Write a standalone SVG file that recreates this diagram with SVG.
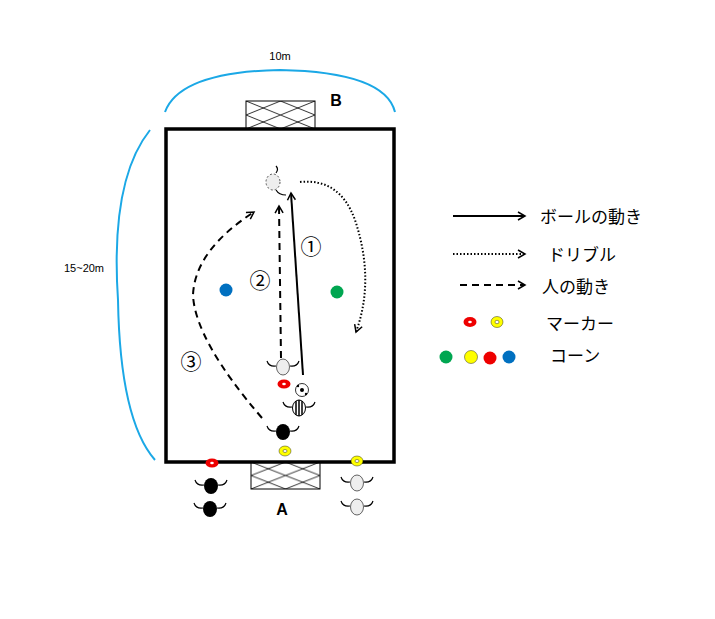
<svg xmlns="http://www.w3.org/2000/svg" width="715" height="619" viewBox="0 0 715 619">
<style>
text{font-family:"Liberation Sans",Arial,"Noto Sans CJK JP",sans-serif;fill:#000}
.lg{font-size:17px}
.sm{font-size:11px}
.num{font-size:21px;font-family:"Noto Sans CJK JP","DejaVu Sans",sans-serif}
.arm{fill:none;stroke:#000;stroke-width:1.2}
.ln{fill:none;stroke:#000;stroke-width:2}
.dash{stroke-dasharray:7,5}
.dot{stroke-dasharray:1.5,2}
.blue{fill:none;stroke:#1ba8e6;stroke-width:2}
.net{fill:#fff;stroke:#000;stroke-width:1}
</style>
<defs>
<marker id="ah" markerWidth="10" markerHeight="10" refX="8" refY="5" orient="auto" markerUnits="userSpaceOnUse"><path d="M1,1 L8,5 L1,9" fill="none" stroke="#000" stroke-width="1.5"/></marker>
<pattern id="x" x="246" y="101" width="34.5" height="14" patternUnits="userSpaceOnUse"><path d="M0,0 L34.5,14 M34.5,0 L0,14" stroke="#000" stroke-width="0.8"/></pattern>
<pattern id="x2" x="251" y="462" width="34.5" height="13.5" patternUnits="userSpaceOnUse"><path d="M0,0 L34.5,13.5 M34.5,0 L0,13.5" stroke="#000" stroke-width="0.8"/></pattern>
<g id="arms"><path class="arm" d="M-16,-6 q2,6 9,5 M16,-6 q-2,6 -9,5"/></g>
</defs>
<rect width="715" height="619" fill="#fff"/>
<path class="blue" d="M165,112 Q180,72 280,70 Q385,72 395,112"/>
<path class="blue" d="M150,130 Q110,180 118,300 Q120,420 155,460"/>
<text class="sm" x="280" y="60" text-anchor="middle">10m</text>
<text class="sm" x="84" y="272" text-anchor="middle">15~20m</text>
<g id="goalB"><rect class="net" x="246" y="101" width="69" height="28"/><rect x="246" y="101" width="69" height="28" fill="url(#x)"/></g>
<g id="goalA"><rect class="net" x="251" y="462" width="69" height="27"/><rect x="251" y="462" width="69" height="27" fill="url(#x2)"/></g>
<rect id="field" x="166" y="129" width="228" height="333" fill="none" stroke="#000" stroke-width="3.5"/>
<text x="336" y="106" font-size="16" font-weight="bold" text-anchor="middle">B</text>
<text x="282" y="515" font-size="16" font-weight="bold" text-anchor="middle">A</text>
<g id="connectors">
<path class="ln" d="M303,375 L291,193" marker-end="url(#ah)"/>
<path class="ln dash" d="M281,358 L279,206" marker-end="url(#ah)"/>
<path class="ln dash" d="M262,418 Q195,340 193,295 Q195,250 254,212" marker-end="url(#ah)"/>
<path class="ln dot" d="M300,182 Q340,178 355,220 Q375,280 356,332" marker-end="url(#ah)"/>
</g>
<g id="ghost"><ellipse cx="273" cy="182" rx="7" ry="8" fill="#eee" stroke="#555" stroke-dasharray="2,2"/><path class="arm" d="M276,166 q3,3 0,7 M276,190 q3,5 10,5"/></g>
<g id="cones"><circle cx="226" cy="290" r="6.5" fill="#0070c0"/><circle cx="337" cy="292" r="6.5" fill="#00a651"/></g>
<text class="num" x="311" y="254" text-anchor="middle">①</text>
<text class="num" x="260" y="288" text-anchor="middle">②</text>
<text class="num" x="191" y="369" text-anchor="middle">③</text>
<g id="pWhite1" transform="translate(283,367)"><use href="#arms"/><ellipse rx="6.5" ry="8" fill="#eee" stroke="#000" stroke-width="0.6"/></g>
<g id="mRed1"><ellipse cx="284" cy="384" rx="6.5" ry="4.5" fill="#e00"/><ellipse cx="284" cy="384" rx="1.8" ry="1.3" fill="#fff"/></g>
<g id="ball"><circle cx="302" cy="390" r="6.5" fill="#fff" stroke="#000" stroke-width="0.8"/><circle cx="302" cy="390" r="2" fill="#000"/><circle cx="298" cy="386" r="1.2" fill="#000"/><circle cx="306" cy="394" r="1.2" fill="#000"/></g>
<g id="pStripe" transform="translate(299,408)"><use href="#arms"/><ellipse rx="6.5" ry="8" fill="#fff" stroke="#000"/><path d="M-3,-7 V7 M0,-8 V8 M3,-7 V7" stroke="#000" stroke-width="1.5"/></g>
<g id="pBlack1" transform="translate(283,432)"><use href="#arms"/><ellipse rx="7" ry="8" fill="#000"/></g>
<g id="mYel1"><ellipse cx="285" cy="451" rx="6" ry="5" fill="#ff0" stroke="#000" stroke-width="0.4"/><ellipse cx="285" cy="451" rx="2" ry="1.5" fill="#fff" stroke="#000" stroke-width="0.4"/></g>
<g id="mRed2"><ellipse cx="212" cy="463" rx="6.5" ry="4.5" fill="#e00"/><ellipse cx="212" cy="463" rx="1.8" ry="1.3" fill="#fff"/></g>
<g id="mYel2"><ellipse cx="357" cy="461" rx="6" ry="5" fill="#ff0" stroke="#000" stroke-width="0.4"/><ellipse cx="357" cy="461" rx="2" ry="1.5" fill="#fff" stroke="#000" stroke-width="0.4"/></g>
<g id="pBlack2" transform="translate(211,486)"><use href="#arms"/><ellipse rx="7" ry="8" fill="#000"/></g>
<g id="pBlack3" transform="translate(210,509)"><use href="#arms"/><ellipse rx="7" ry="8" fill="#000"/></g>
<g id="pWhite2" transform="translate(357,483)"><use href="#arms"/><ellipse rx="6.5" ry="8" fill="#eee" stroke="#000" stroke-width="0.6"/></g>
<g id="pWhite3" transform="translate(357,507)"><use href="#arms"/><ellipse rx="6.5" ry="8" fill="#eee" stroke="#000" stroke-width="0.6"/></g>
<g id="legend">
<path class="ln" d="M453,216 L525,216" marker-end="url(#ah)"/>
<path class="ln dot" d="M453,254 L525,254" marker-end="url(#ah)"/>
<path class="ln dash" d="M460,285 L525,285" marker-end="url(#ah)"/>
<text class="lg" x="540" y="223">ボールの動き</text>
<text class="lg" x="548" y="261">ドリブル</text>
<text class="lg" x="542" y="293">人の動き</text>
<text class="lg" x="546" y="330">マーカー</text>
<text class="lg" x="550" y="362">コーン</text>
<ellipse cx="470" cy="322" rx="6.5" ry="5" fill="#e00"/><ellipse cx="470" cy="322" rx="1.8" ry="1.3" fill="#fff"/>
<ellipse cx="497" cy="322" rx="6" ry="5.5" fill="#ff0" stroke="#000" stroke-width="0.4"/><ellipse cx="497" cy="322" rx="2" ry="1.7" fill="#fff" stroke="#000" stroke-width="0.4"/>
<circle cx="446" cy="357" r="6.5" fill="#00a651"/><circle cx="471" cy="357" r="6.5" fill="#ff0" stroke="#000" stroke-width="0.4"/><circle cx="490" cy="358" r="6.5" fill="#e00"/><circle cx="509" cy="357" r="6.5" fill="#0070c0"/>
</g>
</svg>
